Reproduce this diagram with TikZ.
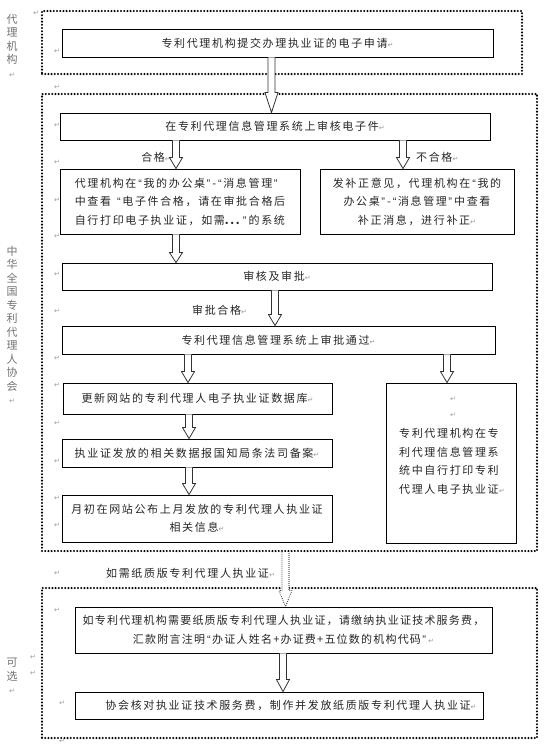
\documentclass[tikz,border=0pt]{standalone}
\usepackage{fontspec}
\usetikzlibrary{calc}
\newfontfamily\cjk{Noto Sans CJK SC}[LetterSpace=15]
\newfontfamily\cjkn{Noto Sans CJK SC}[LetterSpace=11]
\newfontfamily\cjkv{Noto Sans CJK SC}
\newfontfamily\lat{Liberation Sans}
\newfontfamily\dvs{DejaVu Sans}
\newcommand\rt{{\dvs\fontsize{7}{7}\selectfont\color{black!40}↵}}
\newcommand\oq{{\lat\hspace{2pt}“\hspace{1.5pt}}}
\newcommand\cq{{\lat\hspace{1.5pt}”\hspace{2pt}}}
% hollow block arrow: [style]{x}{from}{to}{head length}
\newcommand\harr[5][harrow]{%
  \path[#1] let \p1=(#3), \p2=(#4) in
    (#2pt-3.5pt,\y1) -- (#2pt-3.5pt,\y2+#5pt) -- (#2pt-6.5pt,\y2+#5pt) --
    (#2pt,\y2) -- (#2pt+6.5pt,\y2+#5pt) -- (#2pt+3.5pt,\y2+#5pt) -- (#2pt+3.5pt,\y1);}
\begin{document}
\begin{tikzpicture}[x=1pt,y=-1pt,
  box/.style={draw=black, line width=0.9pt, fill=white, inner sep=0pt,
    font=\cjk\fontsize{11}{18.5}\selectfont, text=black!85},
  framebox/.style={draw=black, line width=2.3pt, dash pattern=on 0pt off 3.2pt,
    line cap=round, inner sep=0pt},
  harrow/.style={draw=black!80, line width=0.8pt, fill=white},
  harrowd/.style={draw=black!80, line width=1.1pt, dash pattern=on 0pt off 2pt,
    line cap=round, fill=white},
  lbl/.style={font=\cjk\fontsize{11}{18.5}\selectfont, text=black!85, inner sep=0pt},
  vlbl/.style={font=\cjkv\fontsize{11}{13.5}\selectfont, text=black!55, align=center, inner sep=0pt},
  rmk/.style={inner sep=0pt}]
\useasboundingbox (0,0) rectangle (557,745);
\fill[white] (0,0) rectangle (557,745);

% dotted frames
\node[framebox, minimum width=480, minimum height=63] (f1) at (282,42.5) {};
\node[framebox, minimum width=495, minimum height=457] (f2) at (289.5,322.5) {};
\node[framebox, minimum width=495, minimum height=150] (f3) at (289.5,663) {};

% side labels
\node[vlbl, anchor=north] (v1) at (12,14) {代\\理\\机\\构\\\rt};
\node[vlbl, anchor=north] (v2) at (12,246) {中\\华\\全\\国\\专\\利\\代\\理\\人\\协\\会\\\rt};
\node[vlbl, anchor=north] (v3) at (12,658) {可\\选\\\rt};

% boxes
\node[box, minimum width=431, minimum height=28] (b1) at (277.5,43) {专利代理机构提交办理执业证的电子申请\rt};
\node[box, minimum width=430, minimum height=27] (b2) at (275,126.5) {在专利代理信息管理系统上审核电子件\rt};
\node[box, minimum width=240, minimum height=65, align=left] (b3l) at (180,201.5)
  {代理机构在\oq 我的办公桌\cq-\oq 消息管理\cq\\中查看 \oq 电子件合格，请在审批合格后\\自行打印电子执业证，如需\textbf{...}\cq 的系统};
\node[box, minimum width=194, minimum height=65, align=center] (b3r) at (417,201.5)
  {发补正意见，代理机构在\oq 我的\\办公桌\cq-\oq 消息管理\cq 中查看\\补正消息，进行补正\rt};
\node[box, minimum width=430, minimum height=27] (b4) at (277,276.5) {审核及审批\rt};
\node[box, minimum width=433, minimum height=28] (b5) at (278.5,340) {专利代理信息管理系统上审批通过\rt};
\node[box, minimum width=269, minimum height=31] (b6) at (197.5,398.5) {更新网站的专利代理人电子执业证数据库\rt};
\node[box, minimum width=270, minimum height=28] (b7) at (197,453) {执业证发放的相关数据报国知局条法司备案\rt};
\node[box, minimum width=270, minimum height=47, align=center] (b8) at (197,518.5)
  {月初在网站公布上月发放的专利代理人执业证\\相关信息\rt};
\node[box, minimum width=130, minimum height=160] (br) at (451,463) {};
\node[rmk] (brm1) at (453,399) {\rt};
\node[rmk] (brm2) at (453,415) {\rt};
\node[lbl, align=left, anchor=north west] (brt) at (399,428.5)
  {专利代理机构在专\\利代理信息管理系\\统中自行打印专利\\代理人电子执业证\rt};
\node[box, minimum width=417, minimum height=46, align=center, font=\cjkn\fontsize{11}{18.5}\selectfont] (b9) at (283.5,630)
  {如专利代理机构需要纸质版专利代理人执业证，请缴纳执业证技术服务费，\\汇款附言注明\oq 办证人姓名+办证费+五位数的机构代码\cq\rt};
\node[box, minimum width=408, minimum height=27] (b10) at (279,705.5)
  {\hspace{24pt}协会核对执业证技术服务费，制作并发放纸质版专利代理人执业证\rt};

% connector labels
\node[lbl, anchor=east] (l1) at (171,157) {合格\rt};
\node[lbl, anchor=west] (l2) at (416,157) {不合格\rt};
\node[lbl, anchor=west] (l3) at (192,310) {审批合格\rt};
\node[lbl, anchor=west] (l4) at (106,573) {如需纸质版专利代理人执业证\rt};

% hollow arrows
\harr{271.5}{b1.south}{b2.north}{20}
\harr{176}{b2.south}{b3l.north}{11}
\harr{403}{b2.south}{b3r.north}{11}
\harr{176}{b3l.south}{b4.north}{10}
\harr{275}{b4.south}{b5.north}{11}
\harr{188}{b5.south}{b6.north}{11}
\harr{447}{b5.south}{br.north}{11}
\harr{189}{b6.south}{b7.north}{11}
\harr{189}{b7.south}{b8.north}{11}
\harr[harrowd]{285.5}{f2.south}{b9.north}{16}
\harr{283}{b9.south}{b10.north}{12}

% paragraph marks
\foreach \mx/\my [count=\i] in {36/13,57/51,57/87,57/125,57/162,57/200,57/236,57/274,57/311,57/358,
  57/385,57/423,57/461,57/498,57/525,57/573,57/610,33/657,33/673,62/703,62/741}
  \node[rmk] (pm\i) at (\mx,\my) {\rt};
\end{tikzpicture}
\end{document}
